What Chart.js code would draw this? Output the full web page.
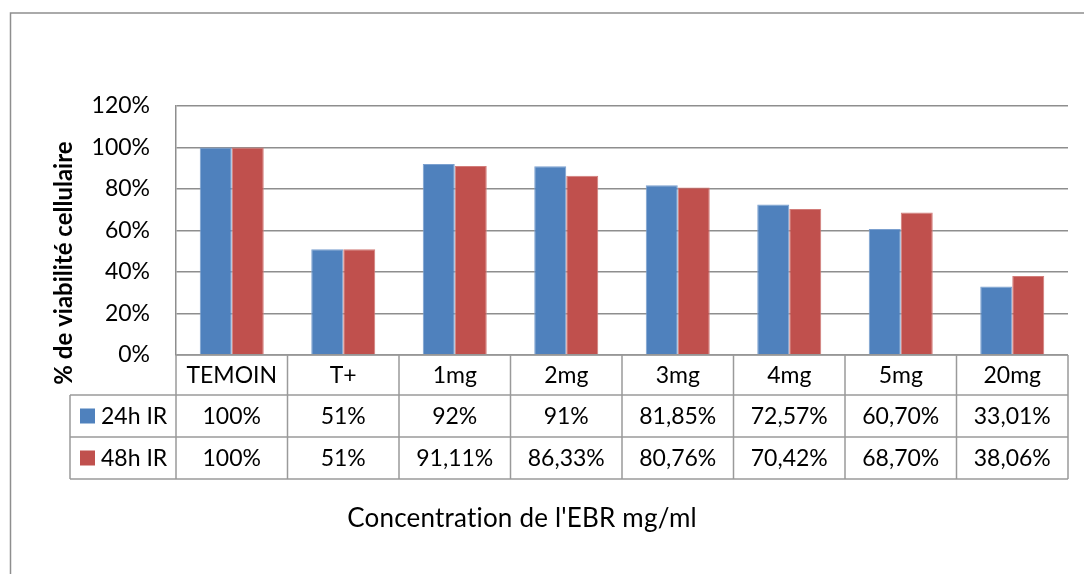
<!DOCTYPE html>
<html>
<head>
<meta charset="utf-8">
<script src="https://cdn.jsdelivr.net/npm/chart.js@4.4.0/dist/chart.umd.min.js"></script>
<style>
  html, body { margin: 0; padding: 0; background: #ffffff; overflow: hidden; }
  #wrap { width: 1084px; height: 574px; position: relative; }
</style>
</head>
<body>
<div id="wrap"><canvas id="chart" width="1084" height="574"></canvas></div>
<script>
// Cell viability per EBR concentration, after 24h and 48h of irradiation
const categories = ['TEMOIN', 'T+', '1mg', '2mg', '3mg', '4mg', '5mg', '20mg'];
const seriesNames = ['24h IR', '48h IR'];
const viability24h = [100, 51, 92, 91, 81.85, 72.57, 60.70, 33.01];
const viability48h = [100, 51, 91.11, 86.33, 80.76, 70.42, 68.70, 38.06];
const yTickValues = [0, 20, 40, 60, 80, 100, 120];
const yTitle = '% de viabilité cellulaire';
const xTitle = "Concentration de l'EBR mg/ml";

const seriesColors = ['#4F81BD', '#C0504D'];
const seriesEdges = ['#7BA0CF', '#D27C79'];
const FONT = 'Lato, "Liberation Sans", sans-serif';
const LINE = '#8E8E8E';
const TEXT_SIZE = 23;

// "91,11%" style labels, integers shown without decimals
function pct(v) {
  return Number.isInteger(v) ? v + '%' : v.toFixed(2).replace('.', ',') + '%';
}

const allSeries = [viability24h, viability48h];

// Draws the frame, the data table under the plot and both axis titles
const tablePlugin = {
  id: 'dataTable',
  afterDraw(chart) {
    const ctx = chart.ctx;
    const xs = chart.scales.x;
    const area = chart.chartArea;
    const rowTops = [area.bottom, area.bottom + 40, area.bottom + 82, area.bottom + 124];
    const legendLeft = 70;
    const step = (xs.right - xs.left) / categories.length;

    ctx.save();
    // outer frame of the chart object
    ctx.strokeStyle = LINE;
    ctx.lineWidth = 1.5;
    ctx.beginPath();
    ctx.moveTo(10.5, 574);
    ctx.lineTo(10.5, 13);
    ctx.lineTo(1084, 13);
    ctx.stroke();

    // table grid
    ctx.strokeStyle = '#9A9A9A';
    ctx.lineWidth = 1.5;
    ctx.beginPath();
    ctx.moveTo(xs.left, rowTops[0]); ctx.lineTo(xs.right, rowTops[0]);
    for (let r = 1; r < rowTops.length; r++) {
      ctx.moveTo(legendLeft, rowTops[r]); ctx.lineTo(xs.right, rowTops[r]);
    }
    for (let i = 0; i <= categories.length; i++) {
      const x = xs.left + i * step;
      ctx.moveTo(x, rowTops[0]); ctx.lineTo(x, rowTops[3]);
    }
    ctx.moveTo(legendLeft, rowTops[1]); ctx.lineTo(legendLeft, rowTops[3]);
    ctx.stroke();

    // series rows: legend key + values
    ctx.font = TEXT_SIZE + 'px ' + FONT;
    ctx.textBaseline = 'middle';
    allSeries.forEach((vals, s) => {
      const cy = (rowTops[s + 1] + rowTops[s + 2]) / 2;
      ctx.fillStyle = seriesColors[s];
      ctx.fillRect(80, cy - 7.5, 15, 15);
      ctx.fillStyle = '#000';
      ctx.textAlign = 'left';
      ctx.fillText(seriesNames[s], 101, cy + 1);
      ctx.textAlign = 'center';
      vals.forEach((v, i) => {
        ctx.fillText(pct(v), xs.getPixelForValue(i), cy + 1);
      });
    });

    // axis titles
    ctx.fillStyle = '#000';
    ctx.textAlign = 'center';
    ctx.font = '26px ' + FONT;
    ctx.letterSpacing = '0.2px';
    ctx.fillText(xTitle, 522, 519);
    ctx.letterSpacing = '0px';

    ctx.save();
    ctx.translate(64, 263);
    ctx.rotate(-Math.PI / 2);
    ctx.font = 'bold 24px ' + FONT;
    ctx.fillText(yTitle, 0, 0);
    ctx.restore();

    ctx.restore();
  }
};

Chart.defaults.font.family = FONT;
Chart.defaults.color = '#000';

new Chart(document.getElementById('chart'), {
  type: 'bar',
  data: {
    labels: categories,
    datasets: allSeries.map((vals, s) => ({
      label: seriesNames[s],
      data: vals,
      backgroundColor: seriesColors[s],
      borderColor: seriesEdges[s],
      borderWidth: 1,
      categoryPercentage: 0.574,
      barPercentage: 1.0
    }))
  },
  options: {
    responsive: false,
    devicePixelRatio: 1,
    animation: false,
    layout: { padding: { left: 0, top: 106, right: 16, bottom: 0 } },
    plugins: {
      legend: { display: false },
      tooltip: { enabled: false }
    },
    scales: {
      x: {
        grid: { display: false, drawTicks: false },
        border: { display: false },
        ticks: { font: { size: TEXT_SIZE }, padding: 7, color: '#000', maxRotation: 0 },
        afterFit(scale) { scale.height = 219; }
      },
      y: {
        min: 0,
        max: 120,
        afterBuildTicks(scale) { scale.ticks = yTickValues.map(v => ({ value: v })); },
        grid: { color: LINE, lineWidth: 1.5, drawTicks: false },
        border: { display: true, color: LINE, width: 1.5 },
        ticks: {
          font: { size: TEXT_SIZE },
          padding: 26,
          color: '#000',
          callback: v => v + '%'
        },
        afterFit(scale) { scale.width = 176; }
      }
    }
  },
  plugins: [tablePlugin]
});
</script>
</body>
</html>
